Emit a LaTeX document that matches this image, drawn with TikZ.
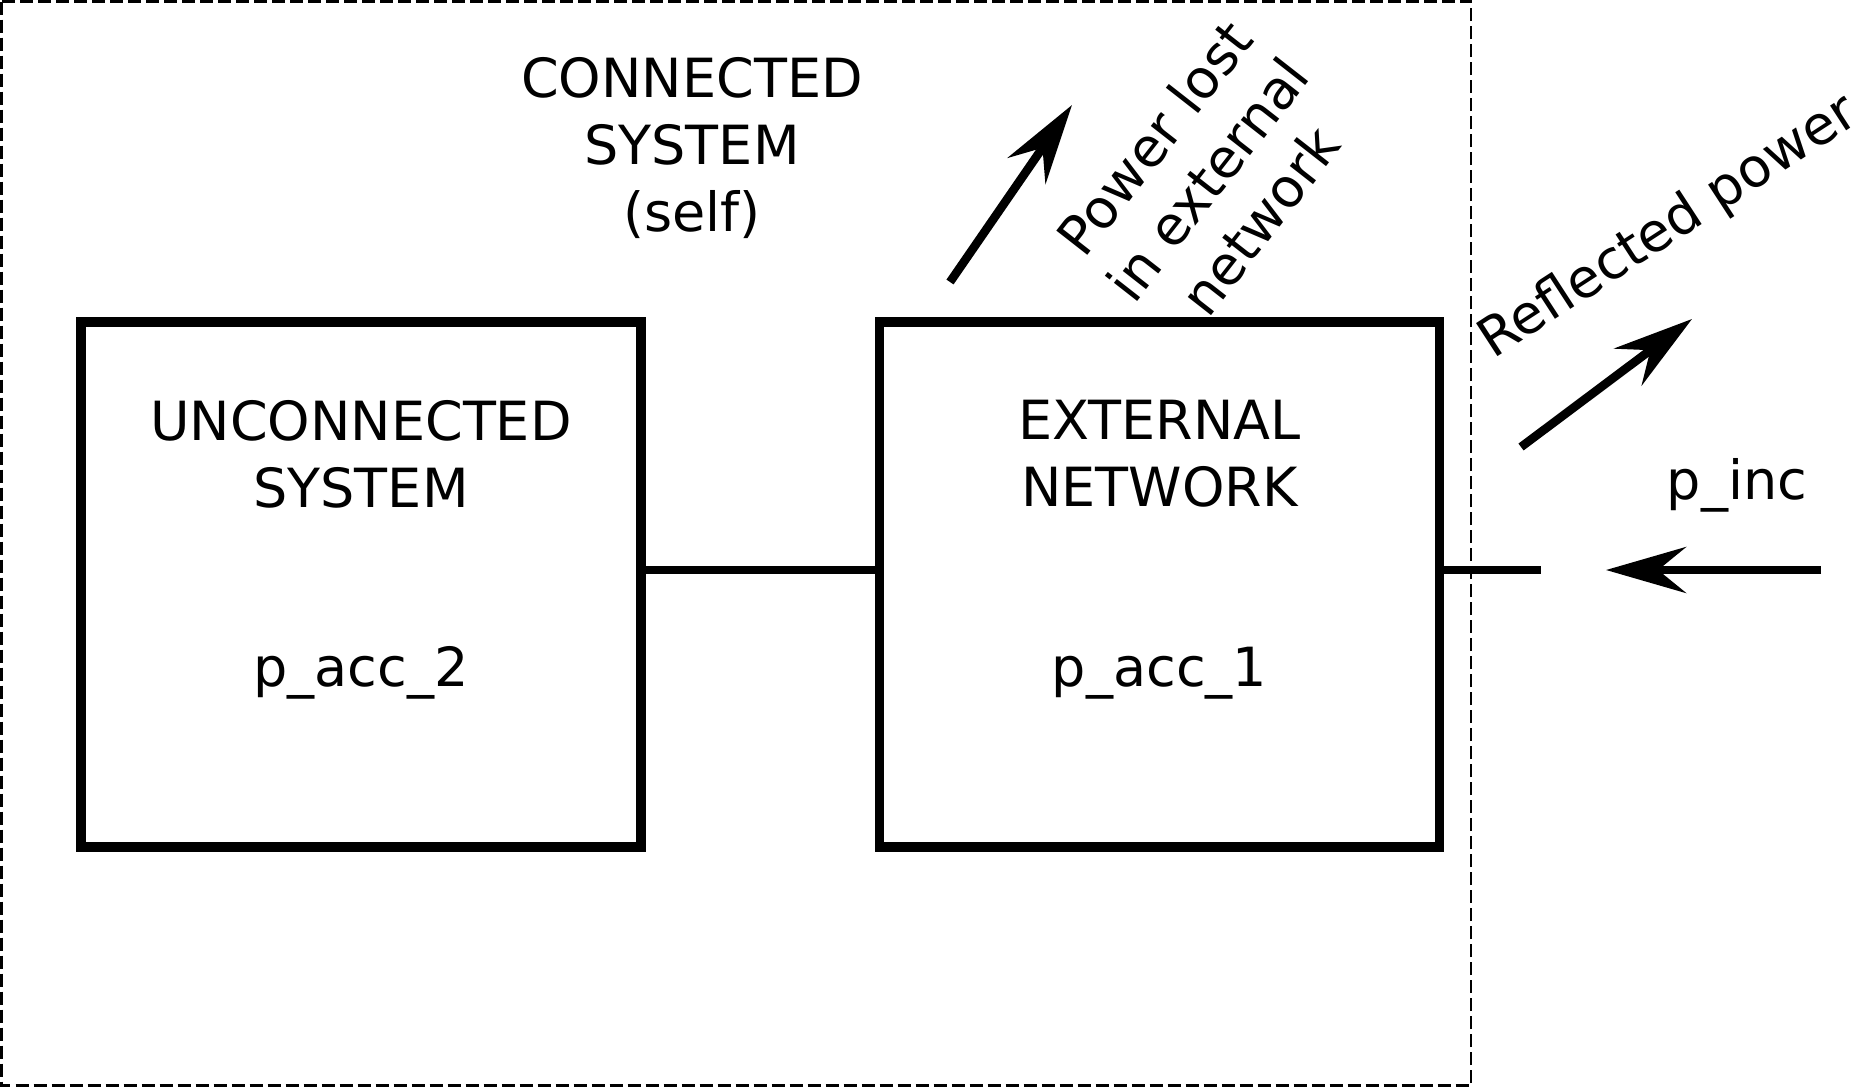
\documentclass[tikz,border=0pt]{standalone}
\usepackage{fontspec}
\setmainfont{DejaVu Sans}
\usetikzlibrary{arrows.meta}

\begin{document}
\begin{tikzpicture}[x=0.5pt,y=-0.5pt,
        every node/.style={font=\fontsize{27}{33.5}\selectfont},
        sysbox/.style={draw,line width=4.6pt,minimum width=280pt,minimum height=262.5pt,inner sep=0pt},
        wire/.style={line width=4.3pt},
        pwrarrow/.style={line width=4.3pt,-{Stealth[length=40pt,width=23pt,inset=14pt]}}]
            \useasboundingbox (0,0) rectangle (1861,1087);
            \draw[line width=1.25pt,dash pattern=on 6.5pt off 2.5pt] (1.5,1.5) rectangle (1471,1085.5);
            \node[align=center] (selftxt) at (692,148) {CONNECTED\\SYSTEM\\(self)};

            \node[sysbox] (usys) at (361,584.5) {};
            \node[sysbox] (ext) at (1159.5,584.5) {};
            \node[align=center] (usystxt) at (361,454) {UNCONNECTED\\SYSTEM};
            \node (pacc2) at (361,673) {p\_acc\_2};
            \node[align=center] (exttxt) at (1159.5,454) {EXTERNAL\\NETWORK};
            \node (pacc1) at (1159.5,673) {p\_acc\_1};

            \coordinate (port) at (0,570);
            \coordinate (stub) at (1541,570);
            \draw[wire] (usys.east |- port) -- (ext.west |- port);
            \draw[wire] (ext.east |- port) -- (stub);

            \coordinate (incstart) at (1821,570);
            \coordinate (incend) at (1606,570);
            \draw[pwrarrow] (incstart) -- (incend);
            \node (pinc) at (1737,485) {p\_inc};

            \coordinate (refstart) at (1521,447);
            \coordinate (refend) at (1692,319);
            \draw[pwrarrow] (refstart) -- (refend);
            \node[rotate=33] (reftxt) at (1669,228) {Reflected power};

            \coordinate (loststart) at (950,282);
            \coordinate (lostend) at (1072,105);
            \draw[pwrarrow] (loststart) -- (lostend);
            \node[rotate=52,align=center] (losttxt) at (1207,179) {Power lost\\in external\\network};
        \end{tikzpicture}
\end{document}
